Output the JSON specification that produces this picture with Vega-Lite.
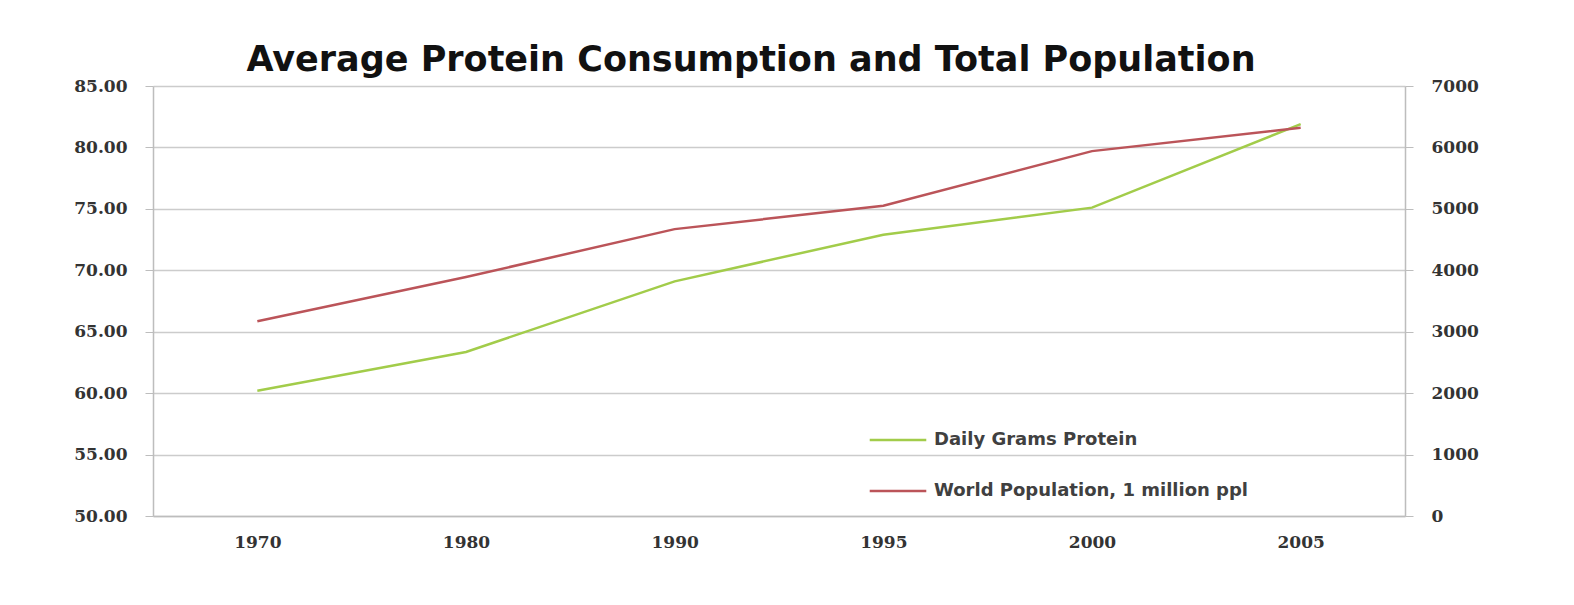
{
  "$schema": "https://vega.github.io/schema/vega-lite/v6.json",
  "autosize": {"type": "none"},
  "width": 1252,
  "height": 430,
  "padding": {"left": 153, "top": 86, "right": 169, "bottom": 89},
  "background": "white",
  "title": {
    "text": "Average Protein Consumption and Total Population",
    "font": "DejaVu Sans",
    "fontWeight": "bold",
    "fontSize": 35,
    "color": "#111111",
    "anchor": "middle",
    "dx": -28,
    "offset": -1
  },
  "data": {
    "values": [
      {"year": "1970", "protein": 60.2, "population": 3170},
      {"year": "1980", "protein": 63.35, "population": 3890},
      {"year": "1990", "protein": 69.1, "population": 4670},
      {"year": "1995", "protein": 72.9, "population": 5050},
      {"year": "2000", "protein": 75.1, "population": 5940},
      {"year": "2005", "protein": 81.9, "population": 6320}
    ]
  },
  "encoding": {
    "x": {
      "field": "year",
      "type": "ordinal",
      "sort": null,
      "scale": {"type": "point", "padding": 0.5},
      "axis": {
        "title": null,
        "labelAngle": 0,
        "ticks": false,
        "labelPadding": 18,
        "labelFont": "DejaVu Serif",
        "labelFontWeight": "bold",
        "labelFontSize": 17,
        "labelColor": "#333333",
        "domainColor": "#bdbdbd",
        "domainWidth": 1.5,
        "grid": false
      }
    }
  },
  "layer": [
    {
      "mark": {"type": "line", "strokeWidth": 2.5, "interpolate": "linear"},
      "encoding": {
        "y": {
          "field": "protein",
          "type": "quantitative",
          "scale": {"domain": [50, 85], "nice": false, "zero": false},
          "axis": {
            "title": null,
            "orient": "left",
            "values": [50, 55, 60, 65, 70, 75, 80, 85],
            "format": ".2f",
            "labelFont": "DejaVu Serif",
            "labelFontWeight": "bold",
            "labelFontSize": 17,
            "labelColor": "#333333",
            "labelPadding": 18,
            "tickSize": 8,
            "tickColor": "#bdbdbd",
            "domainColor": "#bdbdbd",
            "domainWidth": 1.5,
            "grid": true,
            "gridColor": "#cccccc",
            "gridWidth": 1.5
          }
        },
        "color": {"datum": "Daily Grams Protein"}
      }
    },
    {
      "mark": {"type": "line", "strokeWidth": 2.5, "interpolate": "linear"},
      "encoding": {
        "y": {
          "field": "population",
          "type": "quantitative",
          "scale": {"domain": [0, 7000], "nice": false},
          "axis": {
            "title": null,
            "orient": "right",
            "values": [0, 1000, 2000, 3000, 4000, 5000, 6000, 7000],
            "format": "d",
            "labelFont": "DejaVu Serif",
            "labelFontWeight": "bold",
            "labelFontSize": 17,
            "labelColor": "#333333",
            "labelPadding": 18,
            "tickSize": 8,
            "tickColor": "#bdbdbd",
            "domainColor": "#bdbdbd",
            "domainWidth": 1.5,
            "grid": false
          }
        },
        "color": {"datum": "World Population,  1 million ppl"}
      }
    }
  ],
  "resolve": {"scale": {"y": "independent"}},
  "config": {
    "view": {"stroke": null},
    "range": {"category": ["#a2cc4a", "#bb5459"]},
    "legend": {
      "orient": "none",
      "legendX": 715,
      "legendY": 324,
      "title": null,
      "symbolType": "stroke",
      "symbolSize": 3200,
      "symbolStrokeWidth": 2.5,
      "labelFont": "DejaVu Sans",
      "labelFontWeight": "bold",
      "labelFontSize": 18,
      "labelColor": "#404040",
      "rowPadding": 12,
      "labelOffset": 6,
      "labelLimit": 400
    }
  }
}
